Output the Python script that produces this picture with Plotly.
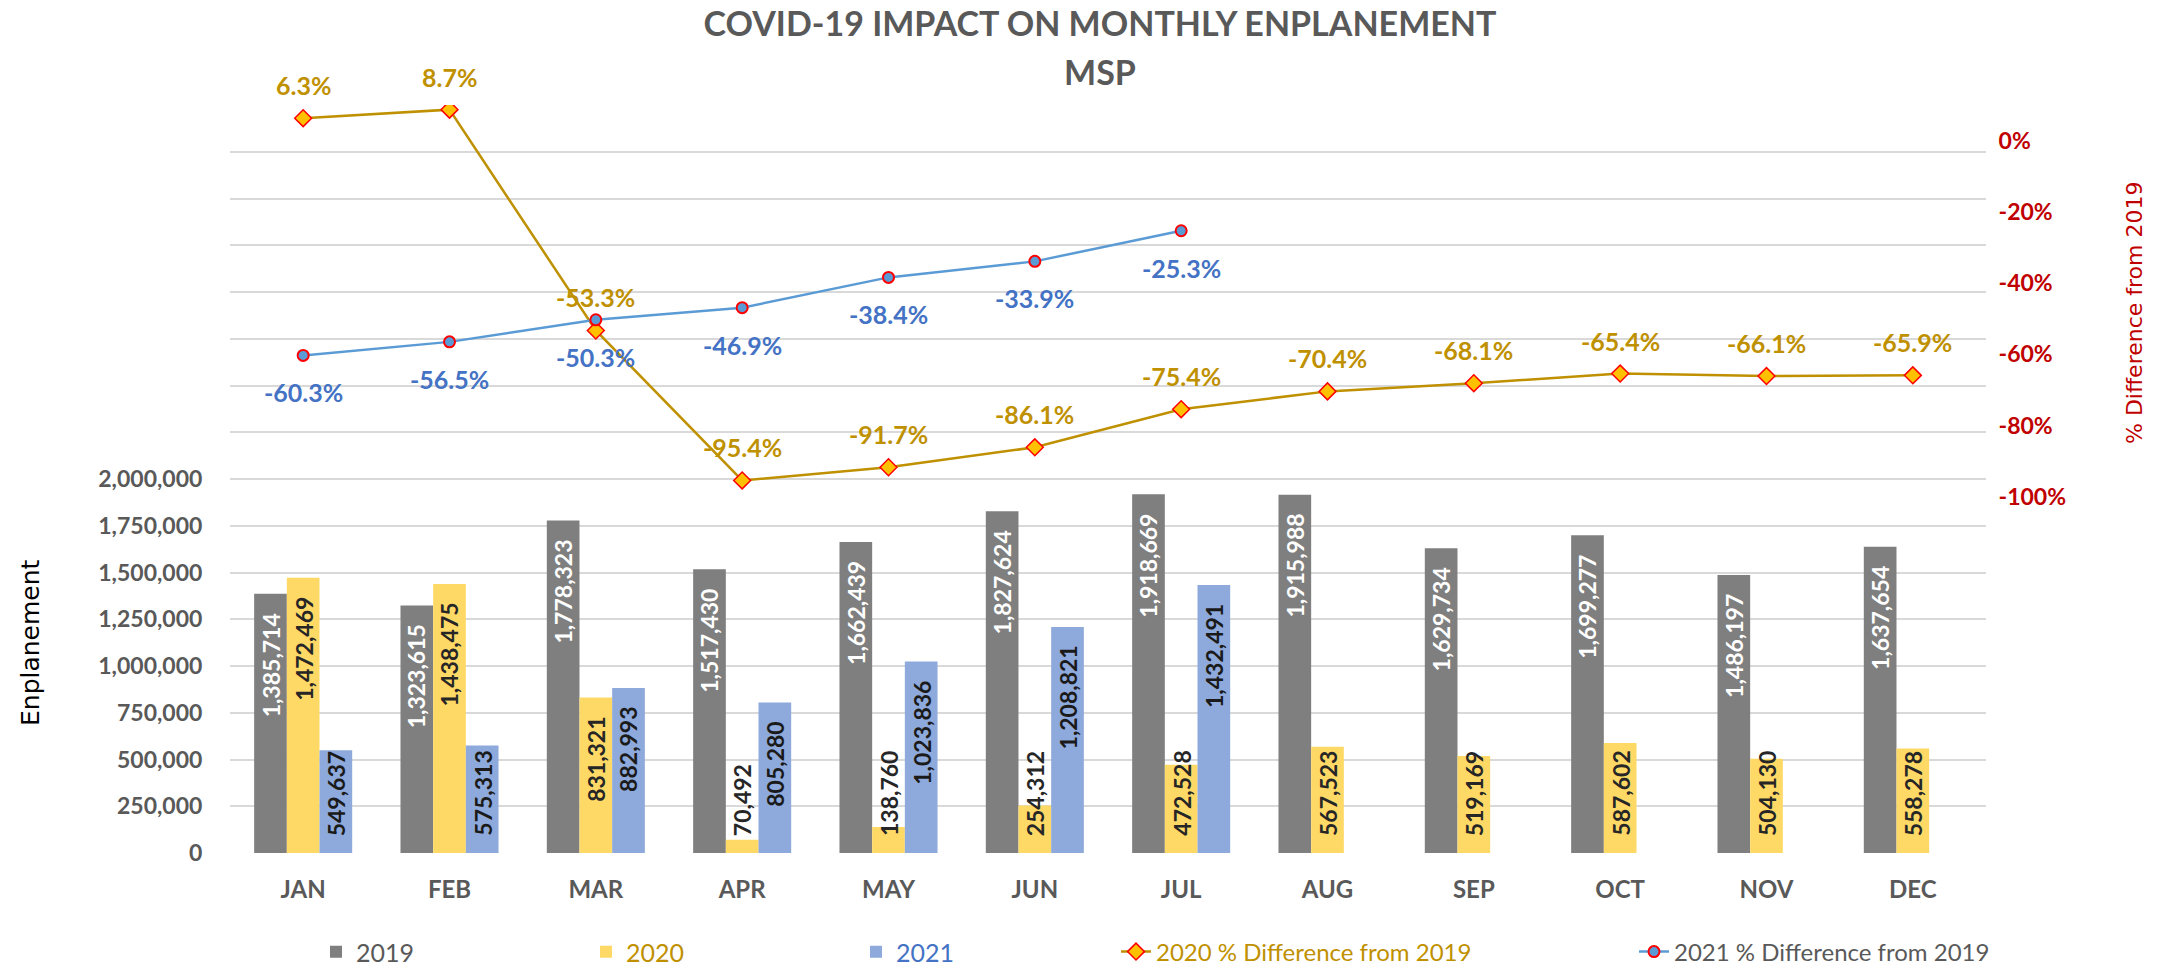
import plotly.graph_objects as go

months = ["JAN", "FEB", "MAR", "APR", "MAY", "JUN", "JUL", "AUG", "SEP", "OCT", "NOV", "DEC"]
enp_2019 = [1385714, 1323615, 1778323, 1517430, 1662439, 1827624, 1918669, 1915988, 1629734, 1699277, 1486197, 1637654]
enp_2020 = [1472469, 1438475, 831321, 70492, 138760, 254312, 472528, 567523, 519169, 587602, 504130, 558278]
enp_2021 = [549637, 575313, 882993, 805280, 1023836, 1208821, 1432491]
pct_2020 = [6.3, 8.7, -53.3, -95.4, -91.7, -86.1, -75.4, -70.4, -68.1, -65.4, -66.1, -65.9]
pct_2021 = [-60.3, -56.5, -50.3, -46.9, -38.4, -33.9, -25.3]

left_tickvals = list(range(0, 4000001, 250000))
left_ticktext = [f"{v:,}" if v <= 2000000 else "" for v in left_tickvals]
right_tickvals = [0, -20, -40, -60, -80, -100]
right_ticktext = [f"{v}%" for v in right_tickvals]

FONT = "Lato, sans-serif"
GRAY = "#595959"
C2019, C2020, C2021 = "#7F7F7F", "#FFD966", "#8EA9DB"
GOLD_TXT, BLUE_TXT, RED = "#BF9000", "#4472C4", "#C00000"

W, H = 2164, 969
ML, MR, MT, MB = 230, 178, 105, 116
BARGAP = 0.33
plot_w = W - ML - MR
plot_h = H - MT - MB
bar_w = (1 - BARGAP) * plot_w / len(months) / 3


def px_x(px):
    return (px - ML) / plot_w


def px_y(py):
    return (H - MB - py) / plot_h


fig = go.Figure()
series = [("2019", enp_2019, C2019, "white", -1),
          (f"<span style='color:{GOLD_TXT}'>2020</span>", enp_2020, C2020, "#262626", 0),
          (f"<span style='color:{BLUE_TXT}'>2021</span>", enp_2021, C2021, "#1a1a1a", 1)]
for name, vals, col, tcol, k in series:
    fig.add_trace(go.Bar(x=months[:len(vals)], y=vals, name=name, marker_color=col,
                         marker_line_width=0, legend="legend"))

fig.add_trace(go.Scatter(x=months, y=pct_2020, yaxis="y2", mode="lines+markers",
                         name=f"<span style='color:{GOLD_TXT}'>2020 % Difference from 2019</span>",
                         line=dict(color="#BF9000", width=2.5),
                         marker=dict(symbol="diamond", size=13, color="#FFC000",
                                     line=dict(color="#FF0000", width=1.5)),
                         legend="legend2"))
fig.add_trace(go.Scatter(x=months[:len(pct_2021)], y=pct_2021, yaxis="y2", mode="lines+markers",
                         name="2021 % Difference from 2019",
                         line=dict(color="#5B9BD5", width=2.5),
                         marker=dict(symbol="circle", size=11, color="#5B9BD5",
                                     line=dict(color="#FF0000", width=2)),
                         legend="legend2"))

annotations = []
# bar value labels (rotated)
for name, vals, col, tcol, k in series:
    for m, v in zip(months, vals):
        fits = v >= 700000
        annotations.append(dict(
            x=m, y=v if fits else 0, xref="x", yref="y",
            text=f"{v:,}", textangle=-90, showarrow=False,
            xshift=k * bar_w, yshift=-17 if fits else 15,
            yanchor="top" if fits else "bottom", xanchor="center",
            font=dict(family=FONT, size=23, color=tcol, weight="bold")))
# line labels
for m, p in zip(months, pct_2020):
    annotations.append(dict(x=m, y=p, xref="x", yref="y2", text=f"{p:.1f}%", showarrow=False,
                            yshift=33, font=dict(family=FONT, size=25, color=GOLD_TXT, weight="bold")))
for m, p in zip(months, pct_2021):
    annotations.append(dict(x=m, y=p, xref="x", yref="y2", text=f"{p:.1f}%", showarrow=False,
                            yshift=-37, font=dict(family=FONT, size=25, color=BLUE_TXT, weight="bold")))
# second title line
annotations.append(dict(x=px_x(1100), y=px_y(72), xref="paper", yref="paper", text="MSP",
                        showarrow=False, xanchor="center", yanchor="middle",
                        font=dict(family=FONT, size=34, color=GRAY, weight="bold")))
# axis titles
annotations.append(dict(x=px_x(30), y=px_y(643), xref="paper", yref="paper", text="Enplanement",
                        textangle=-90, showarrow=False, xanchor="center", yanchor="middle",
                        font=dict(family="DejaVu Sans, sans-serif", size=25, color="black")))
annotations.append(dict(x=px_x(2134), y=px_y(313), xref="paper", yref="paper",
                        text="% Difference from 2019",
                        textangle=-90, showarrow=False, xanchor="center", yanchor="middle",
                        font=dict(family="DejaVu Sans, sans-serif", size=22, color=RED)))

fig.update_layout(
    width=W, height=H,
    margin=dict(l=ML, r=MR, t=MT, b=MB, autoexpand=False),
    paper_bgcolor="white", plot_bgcolor="white",
    barmode="group", bargap=BARGAP, bargroupgap=0,
    title=dict(text="COVID-19 IMPACT ON MONTHLY ENPLANEMENT", x=px_x(1100), xref="paper",
               xanchor="center", y=1 - 24 / H, yref="container", yanchor="middle",
               font=dict(family=FONT, size=34, color=GRAY, weight="bold")),
    font=dict(family=FONT, color=GRAY),
    xaxis=dict(range=[-0.5, len(months) - 0.5], showgrid=False, showline=False, zeroline=False,
               ticks="outside", ticklen=15, tickcolor="rgba(0,0,0,0)",
               tickfont=dict(family=FONT, size=24, color=GRAY, weight="bold")),
    yaxis=dict(range=[0, 4000000], tickvals=left_tickvals, ticktext=left_ticktext,
               showgrid=True, gridcolor="#D9D9D9", gridwidth=2, zeroline=False, showline=False,
               ticks="outside", ticklen=22, tickcolor="rgba(0,0,0,0)",
               tickfont=dict(family=FONT, size=23, color=GRAY, weight="bold")),
    yaxis2=dict(range=[-200, 10], overlaying="y", side="right", tickvals=right_tickvals,
                ticktext=right_ticktext, showgrid=False, zeroline=False, showline=False,
                ticks="outside", ticklen=7, tickcolor="rgba(0,0,0,0)",
                tickfont=dict(family=FONT, size=23, color=RED, weight="bold")),
    legend=dict(orientation="h", x=px_x(316), xanchor="left", y=px_y(952), yanchor="middle",
                font=dict(family=FONT, size=25, color=GRAY), entrywidth=225, itemwidth=30,
                bgcolor="rgba(0,0,0,0)"),
    legend2=dict(orientation="h", x=px_x(1116), xanchor="left", y=px_y(952), yanchor="middle",
                 font=dict(family=FONT, size=24, color=GRAY), entrywidth=473, itemwidth=30,
                 bgcolor="rgba(0,0,0,0)"),
    showlegend=True,
    annotations=annotations,
)

fig.write_html("out.html", config={"displayModeBar": False},
               post_script="document.body.style.margin='0';document.body.style.overflow='hidden';")
